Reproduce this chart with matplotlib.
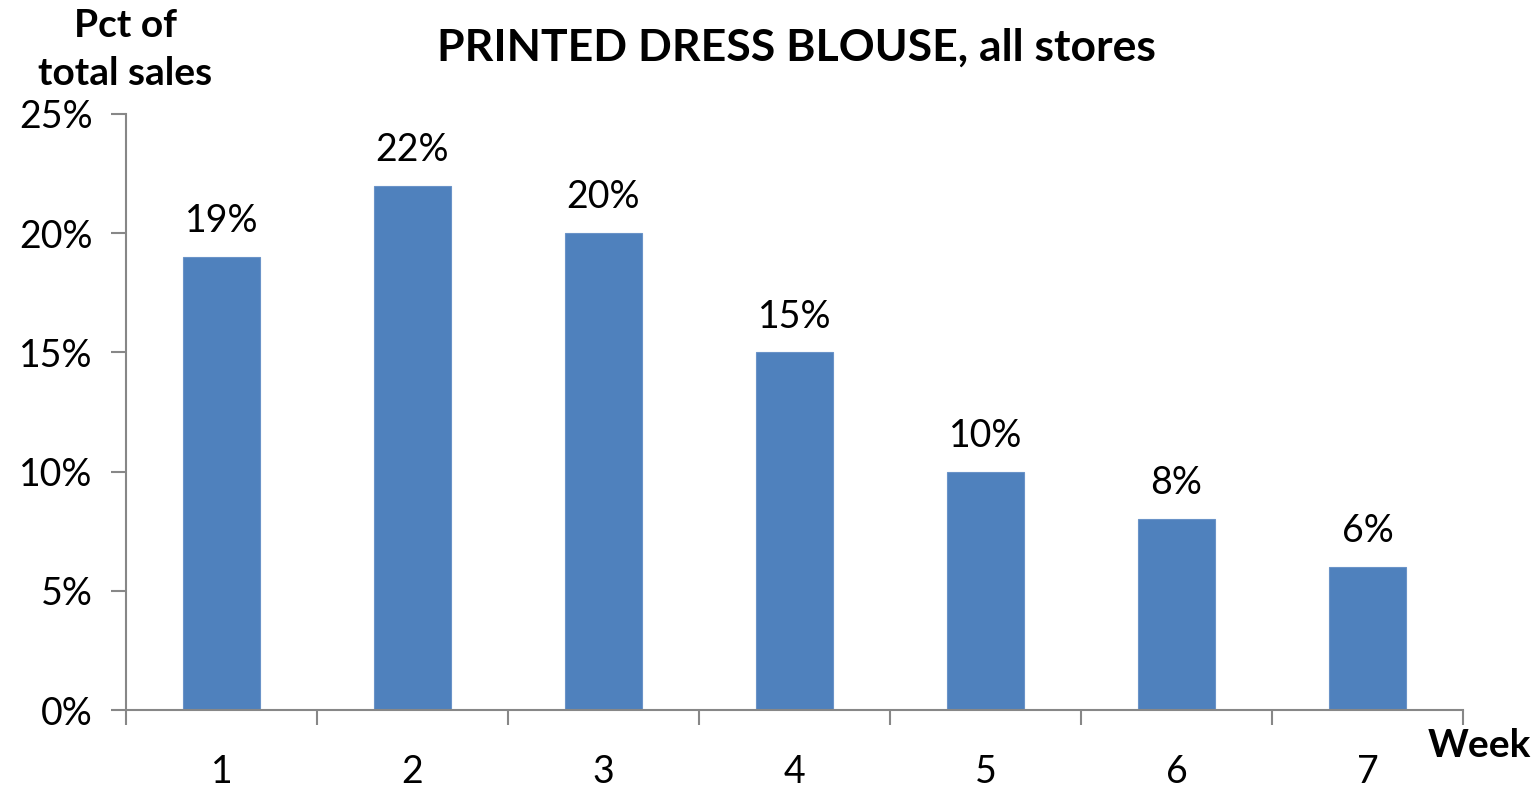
import matplotlib.pyplot as plt
from matplotlib.ticker import PercentFormatter

plt.rcParams['font.family'] = ['Lato', 'DejaVu Sans']

# Weekly share of total sales
weeks = [1, 2, 3, 4, 5, 6, 7]
pct_sales = [19, 22, 20, 15, 10, 8, 6]
yticks = [0, 5, 10, 15, 20, 25]

bar_color = '#4F81BD'
axis_gray = '#878787'

fig = plt.figure(figsize=(15.34, 7.91), dpi=100)
ax = fig.add_axes([0.0821, 0.1024, 0.8716, 0.7535])

bars = ax.bar(weeks, pct_sales, width=0.4, color=bar_color, edgecolor='#6A93C8', linewidth=0.8, zorder=2)
for rect, v in zip(bars, pct_sales):
    ax.text(rect.get_x() + rect.get_width() / 2, v + 0.75, f'{v}%',
            ha='center', va='bottom', fontsize=27)

ax.set_xlim(0.5, 7.5)
ax.set_ylim(0, 25)
ax.set_yticks(yticks)
ax.yaxis.set_major_formatter(PercentFormatter(decimals=0))
ax.set_xticks(weeks)
ax.set_xticks([w + 0.5 for w in [0] + weeks], minor=True)

for s in ['top', 'right']:
    ax.spines[s].set_visible(False)
for s in ['left', 'bottom']:
    ax.spines[s].set_color(axis_gray)
    ax.spines[s].set_linewidth(1.5)

ax.tick_params(axis='y', direction='out', length=11, width=1.5, color=axis_gray,
               labelsize=27, pad=13)
ax.tick_params(axis='x', which='major', length=0, labelsize=27, pad=32)
ax.tick_params(axis='x', which='minor', direction='out', length=11, width=1.5, color=axis_gray)

fig.text(0.5195, 0.94, 'PRINTED DRESS BLOUSE, all stores', ha='center', va='center',
         fontsize=32, fontweight='bold')
fig.text(0.0815, 0.937, 'Pct of\ntotal sales', ha='center', va='center',
         fontsize=28, fontweight='bold', linespacing=1.45)
fig.text(0.9645, 0.057, 'Week', ha='center', va='center', fontsize=28, fontweight='bold')

fig.savefig('out.png', dpi=100)
